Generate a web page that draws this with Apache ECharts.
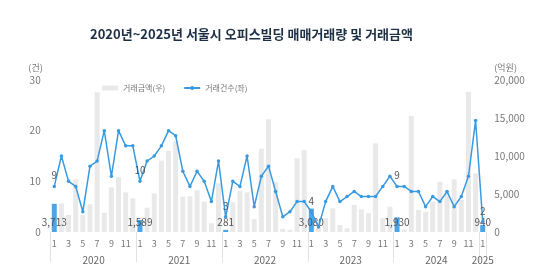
<!DOCTYPE html>
<html><head><meta charset="utf-8">
<script src="https://cdn.jsdelivr.net/npm/echarts@6/dist/echarts.min.js"></script>
<style>html,body{margin:0;padding:0;background:#fff}#c{width:558px;height:277px}</style>
</head><body><div id="c"></div>
<script>
const titleText = '2020년~2025년 서울시 오피스빌딩 매매거래량 및 거래금액';
const years = ['2020','2021','2022','2023','2024','2025'];
const monthsPerYear = [12,12,12,12,12,1];
const legendNames = ['거래금액(우)','거래건수(좌)'];
// 거래건수 (left axis, 건)
const counts = [9,15,10,9,4,13,14,20,11,20,17,17,
                10,14,15,17,20,19,12,9,12,10,6,14,
                3,10,9,15,5,11,13,8,3,4,6,6,
                4,1,6,9,6,7,8,7,7,7,9,11,
                9,9,8,8,5,7,6,8,5,7,11,22,
                2];
// 거래금액 (right axis, 억원)
const amounts = [3713,3770,2240,6930,2240,3640,18380,2540,5880,7200,5220,4430,
                 1589,3200,5090,9390,10660,12000,4650,4700,5490,3990,1140,6400,
                 281,3900,5390,5220,1710,10950,14830,6620,400,300,9700,10790,
                 3080,500,1800,3110,920,480,3550,2990,2460,11670,1800,3330,
                 1930,300,15270,2900,2670,3990,6620,5440,6930,4210,18470,7720,
                 940];
const leftTicks = {min:0,max:30,interval:10};
const rightTicks = {min:0,max:20000,interval:5000};

const cats = [], monthOf = [], yearOf = [];
years.forEach((y,yi)=>{ for(let m=1;m<=monthsPerYear[yi];m++){ cats.push(y+'-'+m); monthOf.push(m); yearOf.push(y);} });
const fmt = v => String(v).replace(/\B(?=(\d{3})+(?!\d))/g, ',');
const isJan = i => monthOf[i] === 1;
const FONT = '"Noto Sans CJK KR", "Noto Sans", sans-serif';

const chart = echarts.init(document.getElementById('c'), null, {renderer:'canvas'});
chart.setOption({
  backgroundColor:'#fff',
  animation:false,
  textStyle:{fontFamily:FONT},
  title:{text:titleText,left:85,top:23,textStyle:{fontSize:13,fontWeight:'bold',color:'#1c2f45',fontFamily:FONT}},
  legend:{data:legendNames,left:97,top:79,itemWidth:16,itemHeight:5,itemGap:18,
    textStyle:{fontSize:8,color:'#777',fontFamily:FONT}},
  grid:{left:50.7,right:71.7,top:80,bottom:45},
  xAxis:[
    {type:'category',data:cats,axisLine:{show:false},axisTick:{show:false},
     axisLabel:{interval:1,margin:7,fontSize:9,color:'#777',formatter:(v,i)=>String(monthOf[i])}},
    {type:'category',data:cats,position:'bottom',offset:3,axisLine:{show:false},
     axisTick:{show:true,length:30,interval:(i)=>isJan(i),lineStyle:{color:'#e2e2e2',width:1}},
     axisLabel:{margin:20,fontSize:10,color:'#666',
       interval:(i)=> (monthOf[i]===7) || (monthsPerYear[years.indexOf(yearOf[i])]===1),
       formatter:(v,i)=> monthOf[i]===7 ? '{a|'+yearOf[i]+'}' : '{b|'+yearOf[i]+'}',
       rich:{a:{padding:[0,7,0,0],fontSize:10,color:'#666'},b:{fontSize:10,color:'#666'}}}}
  ],
  yAxis:[
    {type:'value',min:leftTicks.min,max:leftTicks.max,interval:leftTicks.interval,name:'(건)',
     nameGap:8,nameTextStyle:{align:'right',padding:[0,8,0,0],fontSize:9,color:'#777'},
     axisLine:{show:false},axisTick:{show:false},splitLine:{show:false},
     axisLabel:{margin:10,fontSize:10,color:'#777'}},
    {type:'value',min:rightTicks.min,max:rightTicks.max,interval:rightTicks.interval,name:'(억원)',
     nameGap:8,nameTextStyle:{align:'left',padding:[0,0,0,8],fontSize:9,color:'#777'},
     axisLine:{show:false},axisTick:{show:false},splitLine:{show:false},
     axisLabel:{margin:8,fontSize:10,color:'#777',formatter:v=>fmt(v)}}
  ],
  series:[
    {name:legendNames[0],type:'bar',xAxisIndex:0,yAxisIndex:1,barWidth:5,
     itemStyle:{color:'#e9e9e9'},
     label:{show:false,position:'insideBottom',distance:5,fontSize:10,color:'#555',formatter:p=>fmt(p.value)},
     data:amounts.map((v,i)=> isJan(i) ? {value:v,itemStyle:{color:'#4aa6e8'},label:{show:true}} : v),
     z:1},
    {name:legendNames[1],type:'line',xAxisIndex:0,yAxisIndex:0,symbol:'circle',symbolSize:3.5,
     itemStyle:{color:'#3a9ae0'},lineStyle:{color:'#3a9ae0',width:1.5},
     label:{show:false,position:'top',distance:4,fontSize:10,color:'#555'},
     data:counts.map((v,i)=> isJan(i) ? {value:v,label:{show:true}} : v),
     z:3}
  ]
});
</script></body></html>
